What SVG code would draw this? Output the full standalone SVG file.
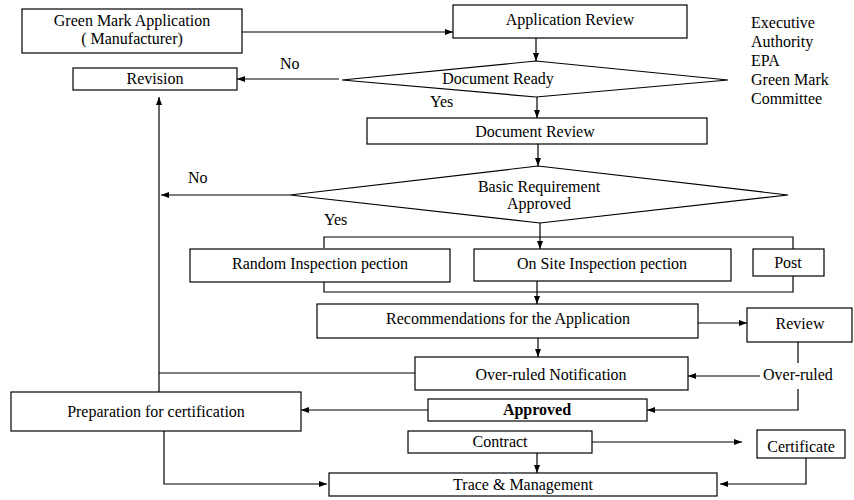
<svg xmlns="http://www.w3.org/2000/svg" width="854" height="500" viewBox="0 0 854 500">
<defs>
<marker id="arr" markerUnits="userSpaceOnUse" markerWidth="8" markerHeight="6" refX="8" refY="3" orient="auto">
<path d="M0,0 L8,3 L0,6 z" fill="#000"/>
</marker>
<style>
rect, polygon { fill: #fff; stroke: #000; stroke-width: 1.2; }
text { font-family: "Liberation Serif", "Times New Roman", serif; font-size: 16px; fill: #000; }
.c { text-anchor: middle; }
.b { font-weight: bold; }
#connectors path { fill: none; stroke: #000; stroke-width: 1.2; }
.a { marker-end: url(#arr); }
</style>
</defs>
<rect x="0" y="0" width="854" height="500" style="fill:#fff;stroke:none"/>

<g id="connectors">
<path class="a" d="M242,32 H453"/>
<path class="a" d="M536,38 V61"/>
<path class="a" d="M339,79 H237"/>
<path class="a" d="M537,97 V118"/>
<path class="a" d="M538,144 V166"/>
<path class="a" d="M290,195 H161"/>
<path class="a" d="M540,223 V249"/>
<path d="M324,248 V237 H793 V249"/>
<path d="M324,282 V292 H793 V276"/>
<path class="a" d="M537,281 V304"/>
<path class="a" d="M698,323 H747"/>
<path class="a" d="M538,338 V357"/>
<path d="M415,373 H159"/>
<path class="a" d="M159,392 V97"/>
<path d="M798,342 V363"/>
<path class="a" d="M760,376 H688"/>
<path class="a" d="M798,389 V410 H647"/>
<path class="a" d="M428,410 H301"/>
<path class="a" d="M164,431 V484 H327"/>
<path class="a" d="M592,442 H742"/>
<path class="a" d="M537,453 V473"/>
<path class="a" d="M806,458 V484 H720"/>
</g>

<g id="n-green"><rect x="22" y="9" width="220" height="44"/><text class="c" x="132" y="26">Green Mark Application</text><text class="c" x="132" y="44">( Manufacturer)</text></g>
<g id="n-appreview"><rect x="453" y="5" width="234" height="33"/><text class="c" x="570" y="25">Application Review</text></g>
<g id="n-docready"><polygon points="342,80 536,61 728,80 536,97"/><text class="c" x="498" y="84">Document Ready</text></g>
<g id="n-revision"><rect x="73" y="68" width="164" height="22"/><text class="c" x="155" y="84">Revision</text></g>
<g id="n-docreview"><rect x="367" y="118" width="340" height="26"/><text class="c" x="535" y="137">Document Review</text></g>
<g id="n-basic"><polygon points="290,195 538,166 788,195 540,223"/><text class="c" x="539" y="192">Basic Requirement</text><text class="c" x="539" y="209">Approved</text></g>
<g id="n-random"><rect x="190" y="249" width="260" height="33"/><text class="c" x="320" y="269">Random Inspection pection</text></g>
<g id="n-onsite"><rect x="474" y="249" width="257" height="32"/><text class="c" x="602" y="269">On Site Inspection pection</text></g>
<g id="n-post"><rect x="753" y="249" width="71" height="27"/><text class="c" x="788" y="268">Post</text></g>
<g id="n-recomm"><rect x="317" y="304" width="381" height="34"/><text class="c" x="508" y="324">Recommendations for the Application</text></g>
<g id="n-review"><rect x="747" y="308" width="105" height="34"/><text class="c" x="800" y="329">Review</text></g>
<g id="n-overnotif"><rect x="415" y="357" width="273" height="33"/><text class="c" x="551" y="380">Over-ruled Notification</text></g>
<g id="n-approved"><rect x="428" y="399" width="219" height="22"/><text class="c b" x="537" y="415">Approved</text></g>
<g id="n-prep"><rect x="11" y="392" width="290" height="39"/><text class="c" x="156" y="417">Preparation for certification</text></g>
<g id="n-contract"><rect x="408" y="431" width="184" height="22"/><text class="c" x="500" y="447">Contract</text></g>
<g id="n-certificate"><rect x="757" y="430" width="88" height="28"/><text class="c" x="801" y="452">Certificate</text></g>
<g id="n-trace"><rect x="329" y="473" width="388" height="23"/><text class="c" x="523" y="490">Trace &amp; Management</text></g>

<g id="labels">
<text x="751" y="28">Executive</text>
<text x="751" y="47">Authority</text>
<text x="751" y="66">EPA</text>
<text x="751" y="85">Green Mark</text>
<text x="751" y="104">Committee</text>
<text x="280" y="69">No</text>
<text x="430" y="107">Yes</text>
<text x="188" y="183">No</text>
<text x="324" y="225">Yes</text>
<text x="763" y="380">Over-ruled</text>
</g>
</svg>
